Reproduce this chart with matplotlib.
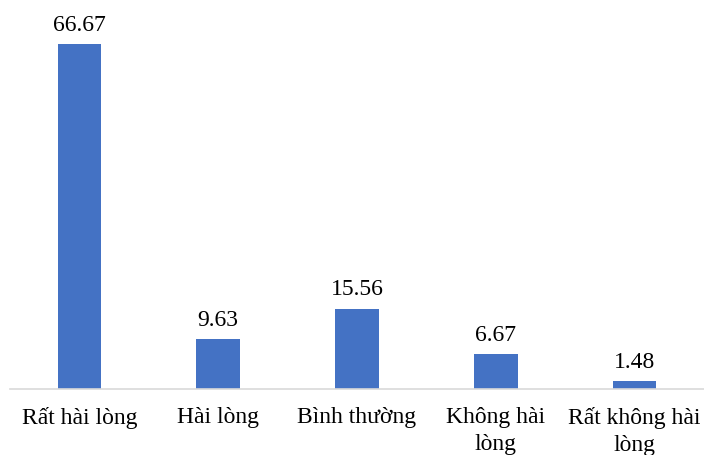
import matplotlib
matplotlib.use("Agg")
import matplotlib.pyplot as plt

categories = ["Rất hài lòng", "Hài lòng", "Bình thường", "Không hài\nlòng", "Rất không hài\nlòng"]
values = [66.67, 9.63, 15.56, 6.67, 1.48]

plt.rcParams['font.family'] = ['Liberation Serif', 'DejaVu Serif']

fig = plt.figure(figsize=(7.04, 4.55), dpi=100)
ax = fig.add_axes([10/704, 66/455, 694/704, 389/455])
x = list(range(len(values)))
bars = ax.bar(x, values, width=0.315, color="#4472C4")
for xi, v in zip(x, values):
    ax.text(xi, v + 1.6, f"{v:.2f}", ha="center", va="bottom", fontsize=17, color="#000000")
ax.set_xlim(-0.5, len(values) - 0.5)
ax.set_ylim(0, 75.2)
ax.set_xticks(x)
ax.set_xticklabels(categories, fontsize=17, linespacing=1.35, va="top")
ax.tick_params(axis='x', length=0, pad=13)
ax.set_yticks([])
for s in ["top", "right", "left"]:
    ax.spines[s].set_visible(False)
ax.spines["bottom"].set_color("#D9D9D9")
ax.spines["bottom"].set_linewidth(1.2)
fig.savefig("out.png", dpi=100)
